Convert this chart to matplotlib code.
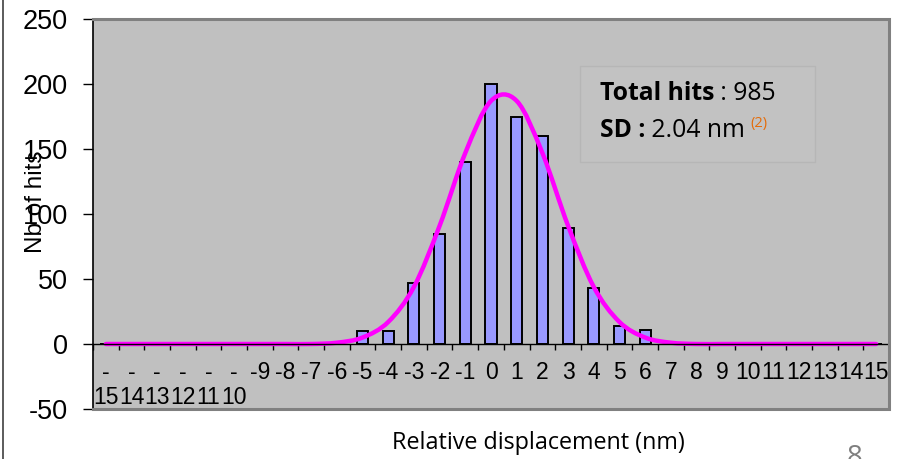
import matplotlib
matplotlib.use("Agg")
import matplotlib.pyplot as plt
from matplotlib.path import Path
from matplotlib.patches import PathPatch, Rectangle
from matplotlib.lines import Line2D
import numpy as np

# ---- data ----
categories = list(range(-15, 16))
hits = [0, 0, 0, 0, 0, 0, 0, 0, 0, 0, 10, 10, 47, 85, 140, 200, 175, 160, 89, 43, 14, 11, 0, 0, 0, 0, 0, 0, 0, 0, 0]
fit = [0, 0, 0, 0, 0, 0, 0, 0, 0, 1, 5, 17, 44, 91, 147, 187, 187, 147, 91, 44, 17, 5, 1, 0, 0, 0, 0, 0, 0, 0, 0]
tick_labels = ["-\n15", "-\n14", "-\n13", "-\n12", "-\n11", "-\n10"] + [str(c) for c in categories[6:]]
total_hits = 985
sd_text = "2.04 nm"

W, H = 901, 459
fig = plt.figure(figsize=(W / 100, H / 100), dpi=100)
fig.patch.set_facecolor("white")
ax = fig.add_axes([93 / W, 1 - 409 / H, (889 - 93) / W, (409 - 19) / H])
ax.set_facecolor("#C0C0C0")

NUM = "Liberation Sans"
CAL = "Open Sans"

x = np.arange(len(categories))
ax.bar(x, hits, width=0.43, color="#9999FF", edgecolor="black", linewidth=1.4, zorder=3)

# smoothed line through the fit points (Excel style Bezier smoothing)
pts = np.column_stack([x, fit]).astype(float)
verts = [tuple(pts[0])]
codes = [Path.MOVETO]
n = len(pts)
for i in range(n - 1):
    p0 = pts[i - 1] if i > 0 else pts[i]
    p1 = pts[i]
    p2 = pts[i + 1]
    p3 = pts[i + 2] if i + 2 < n else pts[i + 1]
    c1 = p1 + (p2 - p0) / 6.0
    c2 = p2 - (p3 - p1) / 6.0
    verts += [tuple(c1), tuple(c2), tuple(p2)]
    codes += [Path.CURVE4] * 3
ax.add_patch(PathPatch(Path(verts, codes), facecolor="none", edgecolor="#FF00FF",
                       linewidth=3.2, capstyle="round", zorder=4))

ax.set_xlim(-0.5, len(categories) - 0.5)
ax.set_ylim(-50, 250)

# spines
for s in ["top", "right"]:
    ax.spines[s].set_visible(False)
ax.spines["bottom"].set_position(("data", 0))
ax.spines["bottom"].set_color("black")
ax.spines["bottom"].set_linewidth(1.0)
ax.spines["bottom"].set_zorder(5)
ax.spines["left"].set_color("black")
ax.spines["left"].set_linewidth(1.2)

# gray frame (top, right, bottom)
ax.plot([0, 1, 1, 0], [1, 1, 0, 0], transform=ax.transAxes, color="#808080",
        linewidth=2.2, clip_on=False, zorder=6, solid_joinstyle="miter")

# x ticks
ax.set_xticks(x)
ax.set_xticklabels(tick_labels, fontfamily=NUM, fontsize=16.5, linespacing=1.12)
ax.set_xticks(np.arange(-0.5, len(categories), 1.0), minor=True)
ax.tick_params(axis="x", which="major", length=0, pad=12)
ax.tick_params(axis="x", which="minor", direction="out", length=4, width=1, color="black")

# y ticks
ax.set_yticks([-50, 0, 50, 100, 150, 200, 250])
ax.set_yticklabels(["-50", "0", "50", "100", "150", "200", "250"], fontfamily=NUM, fontsize=19.5)
ax.tick_params(axis="y", direction="out", length=7, width=1, color="black", pad=11)

# axis titles
fig.text(36 / W, 1 - 202 / H, "Nb of hits", rotation=90, ha="center", va="center",
         fontfamily=NUM, fontsize=17.5)
fig.text(538 / W, 1 - 443 / H, "Relative displacement (nm)", ha="center", va="center",
         fontfamily=CAL, fontsize=16.8)

# text box
ax.add_patch(Rectangle((580 / W, 1 - 162 / H), (815 - 580) / W, (162 - 66) / H,
                       transform=fig.transFigure, facecolor="#C2C2C2", edgecolor="#B6B6B6",
                       linewidth=1, zorder=2))
t1 = fig.text(600 / W, 1 - 100 / H, "Total hits", fontfamily=CAL, fontweight="bold",
              fontsize=17.8, va="baseline", ha="left", zorder=7)
fig.canvas.draw()
ax.annotate(f" : {total_hits}", xy=(1, 0), xycoords=t1, va="bottom", ha="left",
            fontfamily=CAL, fontsize=17.8, annotation_clip=False, zorder=7)
t2 = fig.text(600 / W, 1 - 137 / H, "SD :", fontfamily=CAL, fontweight="bold",
              fontsize=17.8, va="baseline", ha="left", zorder=7)
t3 = ax.annotate(f" {sd_text}", xy=(1, 0), xycoords=t2, va="bottom", ha="left",
                 fontfamily=CAL, fontsize=17.8, annotation_clip=False, zorder=7)
fig.canvas.draw()
ax.annotate("(2)", xy=(1, 0.5), xycoords=t3, xytext=(4, 0), textcoords="offset points",
            va="bottom", ha="left",
            fontfamily=CAL, fontsize=10.5, color="#E46C0A", annotation_clip=False, zorder=7)

# left slide border and page number
fig.add_artist(Line2D([2.5 / W, 2.5 / W], [0, 1], transform=fig.transFigure,
                      color="#404040", linewidth=1.2))
fig.text(855 / W, 1 - 444 / H, "8", fontfamily=CAL, fontsize=20, color="#7F7F7F",
         ha="center", va="top")

fig.savefig("out.png", dpi=100, facecolor="white")
